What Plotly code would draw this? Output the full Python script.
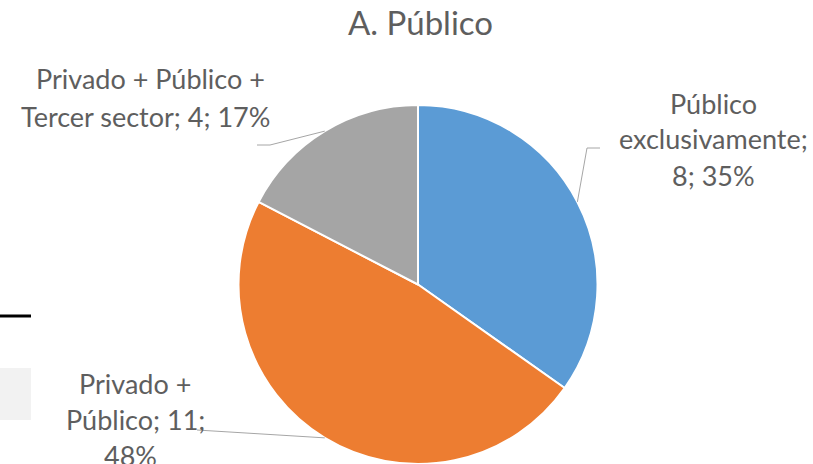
import math
import plotly.graph_objects as go

# ---- data ----
categories = ["Público exclusivamente", "Privado + Público", "Privado + Público + Tercer sector"]
values = [8, 11, 4]
colors = ["#5B9BD5", "#ED7D31", "#A5A5A5"]
title_text = "A. Público"

W, H = 813, 464
FONT = "Lato"
TXT = "#5E5E5E"

total = sum(values)
pcts = [round(v / total * 100) for v in values]

# label lines built from the data
label_lines = [
    ["Público", "exclusivamente;", f"{values[0]}; {pcts[0]}%"],
    ["Privado +", f"Público; {values[1]};", f"{pcts[1]}%"],
    ["Privado + Público +", f"Tercer sector; {values[2]}; {pcts[2]}%"],
]
# label layout (pixel positions of each line centre)
label_pos = [
    [(713, 103), (713, 139), (713, 175)],
    [(135, 383), (135, 419), (130, 455)],
    [(150, 79), (145, 116)],
]
# leader-line label-side points (pixels)
leader_label_pts = [
    [(600, 148), (587, 148)],
    [(197, 430)],
    [(257, 145), (270, 145)],
]

def px(x):
    return x / W

def py(y):
    return 1 - y / H

# pie geometry (pixels)
cx, cy, r = 418, 284.5, 179.5
dom_x = [px(cx - r), px(cx + r)]
dom_y = [py(cy + r), py(cy - r)]

fig = go.Figure(go.Pie(
    labels=categories, values=values, sort=False, direction="clockwise", rotation=0,
    marker=dict(colors=colors, line=dict(color="white", width=2)),
    textinfo="none", hoverinfo="label+value+percent", showlegend=False,
    domain=dict(x=dom_x, y=dom_y),
))

shapes = []
annotations = []
cum = 0
for i, v in enumerate(values):
    mid = (cum + v / 2) / total * 2 * math.pi
    cum += v
    ex, ey = cx + r * math.sin(mid), cy - r * math.cos(mid)
    pts = leader_label_pts[i] + [(ex, ey)]
    path = "M " + " L ".join(f"{px(x)},{py(y)}" for x, y in pts)
    shapes.append(dict(type="path", xref="paper", yref="paper", path=path,
                       line=dict(color="#A6A6A6", width=1)))
    for line, (lx, ly) in zip(label_lines[i], label_pos[i]):
        annotations.append(dict(text=line, x=px(lx), y=py(ly), xref="paper", yref="paper",
                                xanchor="center", yanchor="middle", showarrow=False,
                                font=dict(family=FONT, size=27, color=TXT)))

annotations.append(dict(text=title_text, x=px(420), y=py(22), xref="paper", yref="paper",
                        xanchor="center", yanchor="middle", showarrow=False,
                        font=dict(family=FONT, size=33, color=TXT)))

# cropped-screenshot remnants at the left edge
shapes.append(dict(type="rect", xref="paper", yref="paper", x0=0, x1=px(31), y0=py(420), y1=py(368),
                   fillcolor="#F2F2F2", line=dict(width=0), layer="below"))
shapes.append(dict(type="line", xref="paper", yref="paper", x0=0, x1=px(31), y0=py(316), y1=py(316),
                   line=dict(color="black", width=3)))

fig.update_layout(
    width=W, height=H, margin=dict(l=0, r=0, t=0, b=0),
    paper_bgcolor="white", plot_bgcolor="white",
    shapes=shapes, annotations=annotations,
)
fig.write_html("out.html", config={"displayModeBar": False},
               post_script="document.body.style.margin='0';")
